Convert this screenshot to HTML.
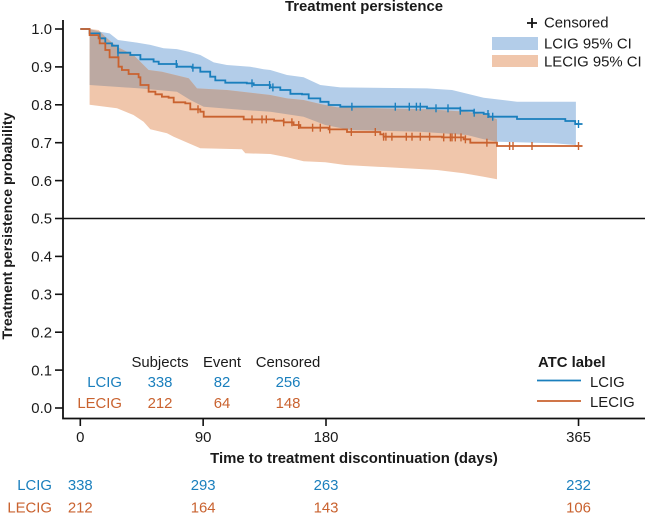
<!DOCTYPE html>
<html lang="en">
<head>
<meta charset="utf-8">
<title>Treatment persistence</title>
<style>
html,body{margin:0;padding:0;background:#fff;}
svg{display:block;font-family:"Liberation Sans",Arial,sans-serif;}
text{font-size:14.9px;fill:#1a1a1a;}
.b{font-weight:bold;}
.blue{fill:#1a7fbd;}
.orange{fill:#c9622f;}
</style>
</head>
<body>
<svg id="chart" width="645" height="514" viewBox="0 0 645 514" xmlns="http://www.w3.org/2000/svg">
<defs><clipPath id="orange-clip"><path id="orange-clip-path"/></clipPath></defs>
<g id="bands"></g>
<g id="refline"></g>
<g id="lines"></g>
<g id="axes"></g>

<text class="b" x="364" y="11" text-anchor="middle">Treatment persistence</text>
<text class="b" transform="translate(12,226) rotate(-90)" text-anchor="middle" style="font-size:14.2px">Treatment persistence probability</text>
<text class="b" x="354" y="463" text-anchor="middle">Time to treatment discontinuation (days)</text>

<g>
<path d="M527 23H537M532 18V28" stroke="#111" stroke-width="1.8" fill="none"/>
<text x="544" y="27.5">Censored</text>
<rect x="492" y="37" width="46" height="13" fill="#b3cde9"/>
<text x="544" y="48.5">LCIG 95% CI</text>
<rect x="492" y="55" width="46" height="12" fill="#f0c6ab"/>
<text x="544" y="66.5">LECIG 95% CI</text>
</g>

<g>
<text class="b" x="538" y="367">ATC label</text>
<line x1="537" x2="581" y1="380.5" y2="380.5" stroke="#1a7fbd" stroke-width="1.8"/>
<text x="590" y="387">LCIG</text>
<line x1="537" x2="581" y1="401" y2="401" stroke="#c9622f" stroke-width="1.8"/>
<text x="590" y="407">LECIG</text>
</g>

<g>
<text x="160" y="367" text-anchor="middle">Subjects</text>
<text x="222" y="367" text-anchor="middle">Event</text>
<text x="288" y="367" text-anchor="middle">Censored</text>
<text class="blue" x="122" y="387" text-anchor="end">LCIG</text>
<text class="blue" x="160" y="387" text-anchor="middle">338</text>
<text class="blue" x="222" y="387" text-anchor="middle">82</text>
<text class="blue" x="288" y="387" text-anchor="middle">256</text>
<text class="orange" x="122" y="408" text-anchor="end">LECIG</text>
<text class="orange" x="160" y="408" text-anchor="middle">212</text>
<text class="orange" x="222" y="408" text-anchor="middle">64</text>
<text class="orange" x="288" y="408" text-anchor="middle">148</text>
</g>

<g id="risk">
<text class="blue" x="52" y="490" text-anchor="end">LCIG</text>
<text class="orange" x="52" y="512.5" text-anchor="end">LECIG</text>
</g>
</svg>
<script>
const xTicks = [0, 90, 180, 365];
const yTicks = [0, 0.1, 0.2, 0.3, 0.4, 0.5, 0.6, 0.7, 0.8, 0.9, 1.0];
const riskLcig = [338, 293, 263, 232];
const riskLecig = [212, 164, 143, 106];

const lcigDays = [0,6.8,14.2,18.3,23.2,27.6,36.6,44,53.7,57.4,70.8,81.8,87.9,95.2,98.9,106.2,122,127,139.2,146.5,153.9,162.4,167.3,175.8,181.9,190.5,254,278.4,288.2,295.5,299.2,319.9,355.3,362.6,365];
const lcigSurv = [1,0.9885,0.9754,0.962,0.956,0.9375,0.9314,0.92,0.914,0.9076,0.9006,0.898,0.8874,0.8742,0.8645,0.8584,0.8566,0.8522,0.846,0.839,0.829,0.8276,0.817,0.808,0.7995,0.795,0.7907,0.7845,0.7792,0.7757,0.7687,0.7625,0.7572,0.7493,0.7493];
const lecigDays = [0,6.8,13.4,14.2,18.3,21.5,28,30.5,35.4,42.7,44,50,55,59.8,64.7,68.4,76.9,80.6,87.9,90.4,119.7,142,149,156.3,161.2,181.9,195.4,219.8,222.2,265,280.8,285.7,305.3,365];
const lecigSurv = [1,0.984,0.9754,0.962,0.9446,0.9252,0.9006,0.8918,0.8812,0.8725,0.8522,0.8346,0.8276,0.8214,0.8188,0.8065,0.8038,0.788,0.7819,0.7687,0.7616,0.7581,0.7537,0.7467,0.7396,0.7352,0.7282,0.722,0.7159,0.7141,0.7089,0.7001,0.6913,0.6913];

const lcigCensored = [27.6,70.3,82.5,125.8,138.7,141.1,199,230.8,241,246.2,249.1,260.6,269.4,278.4,288.6,298.7,302.1,365];
const lecigCensored = [86.2,125.8,133.1,136.3,149,155,160,170.2,175.8,182.7,198.5,216.1,222.2,223.9,228.3,238.8,243,249.1,255.9,266.2,271.1,272.3,274.7,278.9,282.1,297.9,314.5,317,330.9,365];

const lcigUpperDays = [6.8,14.6,21.5,27.6,41.5,51.3,61,70.8,79.4,87.9,97.7,107.4,124.5,134.3,139.2,151.4,163.6,175.8,190.5,254,272.3,295.5,319.9,363.1];
const lcigUpper = [1,0.993,0.9885,0.971,0.964,0.958,0.949,0.947,0.94,0.9314,0.912,0.905,0.9006,0.8936,0.8918,0.8786,0.8725,0.8522,0.846,0.8434,0.839,0.8188,0.8083,0.8083];
const lcigLowerDays = [6.8,43.5,70.8,80.6,90.4,119.7,139.2,163.6,179.5,197.8,249.1,283.3,295.5,305.3,346.8,363.1];
const lcigLower = [0.8522,0.8434,0.8346,0.8126,0.795,0.7863,0.7819,0.7687,0.7467,0.7335,0.729,0.7203,0.7089,0.7027,0.6983,0.694];
const lecigUpperDays = [6.8,13.4,18.3,26.9,39,50,59.8,79.4,85.5,107.4,139.2,151.4,163.6,175.8,188,217.3,254,283.3,297.9,305.3];
const lecigUpper = [1,0.9973,0.9798,0.9534,0.9314,0.8918,0.8874,0.8698,0.8434,0.839,0.8258,0.817,0.8126,0.802,0.7933,0.7907,0.788,0.7819,0.7731,0.7616];
const lecigLowerDays = [6.8,26.9,39,46.4,51.3,63.5,68.4,79.4,87.9,118.4,120.9,139.2,151.4,163.6,179.5,194.1,217.3,261.3,280.8,295.5,305.3];
const lecigLower = [0.8,0.7907,0.7731,0.7555,0.7353,0.7247,0.7159,0.6983,0.6851,0.6825,0.6719,0.6702,0.6614,0.6508,0.6482,0.6412,0.6367,0.6279,0.6192,0.6104,0.6033];

const NS = 'http://www.w3.org/2000/svg';
const xScale = d => 80.3 + d * 1.365;
const yScale = p => 408 - p * 379;
const AXIS_X = 63, AXIS_Y = 418.5;

function make(tag, attrs, parent, text) {
  const el = document.createElementNS(NS, tag);
  for (const k in attrs) el.setAttribute(k, attrs[k]);
  if (text !== undefined) el.textContent = text;
  parent.appendChild(el);
  return el;
}
function stepPoints(days, vals) {
  const pts = [];
  days.forEach((d, i) => {
    if (i > 0) pts.push([xScale(d), yScale(vals[i - 1])]);
    pts.push([xScale(d), yScale(vals[i])]);
  });
  return pts;
}
function edgePoints(days, vals) {
  return days.map((d, i) => [xScale(d), yScale(vals[i])]);
}
function bandPath(upD, up, loD, lo) {
  const top = edgePoints(upD, up);
  const bot = edgePoints(loD, lo).reverse();
  return 'M' + top.concat(bot).map(p => p[0].toFixed(1) + ' ' + p[1].toFixed(1)).join('L') + 'Z';
}
function survAt(days, vals, d) {
  let v = vals[0];
  for (let i = 0; i < days.length; i++) if (days[i] <= d) v = vals[i];
  return v;
}

const bands = document.getElementById('bands');
const lcigBand = bandPath(lcigUpperDays, lcigUpper, lcigLowerDays, lcigLower);
const lecigBand = bandPath(lecigUpperDays, lecigUpper, lecigLowerDays, lecigLower);
document.getElementById('orange-clip-path').setAttribute('d', lecigBand);

const bandA = make('path', {d: lcigBand, fill: '#b3cde9'}, bands);


const bandB = make('path', {d: lecigBand, fill: '#f0c6ab'}, bands);


const bandC = make('path', {d: lcigBand, fill: '#bca9a2', 'clip-path': 'url(#orange-clip)'}, bands);



const refGroup = document.getElementById('refline');
const ref = make('line', {x1: AXIS_X, x2: 645, y1: yScale(0.5), y2: yScale(0.5), stroke: '#111', 'stroke-width': 1.4}, refGroup);



const lines = document.getElementById('lines');
function drawSeries(days, vals, censored, color, name) {
  const pts = stepPoints(days, vals);
  const path = make('path', {
    d: 'M' + pts.map(p => p[0].toFixed(1) + ' ' + p[1].toFixed(1)).join('L'),
    fill: 'none', stroke: color, 'stroke-width': 1.8
  }, lines);
  
  
  censored.forEach(d => {
    const x = xScale(d), y = yScale(survAt(days, vals, d));
    const m = make('path', {
      d: `M${x.toFixed(1)} ${(y - 4).toFixed(1)}V${(y + 4).toFixed(1)}`,
      stroke: color, 'stroke-width': 1.4, fill: 'none'
    }, lines);
    
    
  });
  const cap = make('path', {
    d: `M${xScale(days[days.length - 1]) - 4} ${yScale(vals[vals.length - 1])}h8`,
    stroke: color, 'stroke-width': 1.8
  }, lines);
  
  
}
drawSeries(lcigDays, lcigSurv, lcigCensored, '#1a7fbd', 'lcig');
drawSeries(lecigDays, lecigSurv, lecigCensored, '#c9622f', 'lecig');

const axes = document.getElementById('axes');
const yAxis = make('path', {d: `M${AXIS_X} 20V${AXIS_Y}H645`, fill: 'none', stroke: '#111', 'stroke-width': 1.8}, axes);



yTicks.forEach(t => {
  const y = yScale(t);
  const tick = make('line', {x1: 55, x2: AXIS_X, y1: y, y2: y, stroke: '#111', 'stroke-width': 1.6}, axes);
  
  
  const lab = make('text', {x: 52, y: y + 5.2, 'text-anchor': 'end'}, axes, t.toFixed(1));
  
  
});
xTicks.forEach(t => {
  const x = xScale(t);
  const tick = make('line', {x1: x, x2: x, y1: AXIS_Y, y2: 426, stroke: '#111', 'stroke-width': 1.6}, axes);
  
  
  const lab = make('text', {x: x, y: 442, 'text-anchor': 'middle'}, axes, String(t));
  
  
});

const risk = document.getElementById('risk');
xTicks.forEach((t, i) => {
  const a = make('text', {x: xScale(t), y: 490, 'text-anchor': 'middle', class: 'blue'}, risk, String(riskLcig[i]));
  
  
  const b = make('text', {x: xScale(t), y: 512.5, 'text-anchor': 'middle', class: 'orange'}, risk, String(riskLecig[i]));
  
  
});
</script>
</body>
</html>
